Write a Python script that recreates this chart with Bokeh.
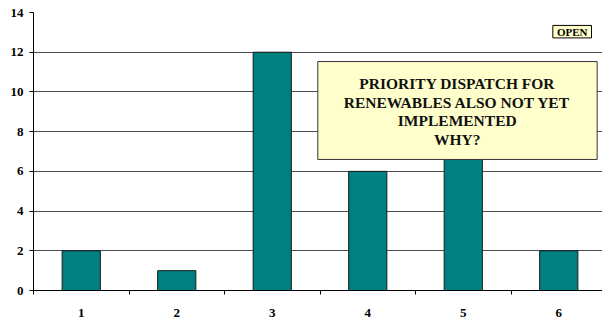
from bokeh.plotting import figure
from bokeh.models import Range1d, FixedTicker
from bokeh.core.properties import value
from bokeh.embed import file_html
from bokeh.resources import INLINE

# Chart data
categories = [1, 2, 3, 4, 5, 6]
counts = [2, 1, 12, 6, 7, 2]
y_ticks = [0, 2, 4, 6, 8, 10, 12, 14]

note_lines = ["PRIORITY DISPATCH FOR", "RENEWABLES ALSO NOT YET", "IMPLEMENTED", "WHY?"]
badge_text = "OPEN"

FONT = "Liberation Serif"

p = figure(width=602, height=323, output_backend="svg", toolbar_location=None,
           x_range=Range1d(0.5, 6.458), y_range=Range1d(0, 14),
           min_border_left=33, min_border_right=0, min_border_top=12, min_border_bottom=33)
p.outline_line_color = None
p.background_fill_color = "white"
p.border_fill_color = "white"

# Bars
p.vbar(x=categories, top=counts, width=0.4, bottom=0,
       fill_color="#008080", line_color="#1a1a1a", line_width=1)

# X axis: labels under the categories, small ticks between them
p.xaxis.ticker = FixedTicker(ticks=categories,
                             minor_ticks=[c - 0.5 for c in categories] + [6.5])
p.xaxis.major_tick_line_color = None
p.xaxis.major_tick_out = 0
p.xaxis.major_tick_in = 0
p.xaxis.minor_tick_out = 4
p.xaxis.minor_tick_in = 0
p.xaxis.minor_tick_line_color = "black"
p.xaxis.axis_line_color = "black"
p.xaxis.major_label_standoff = 14
p.xaxis.major_label_text_font = FONT
p.xaxis.major_label_text_font_style = "bold"
p.xaxis.major_label_text_font_size = "13px"
p.xaxis.major_label_text_color = "black"

# Y axis
p.yaxis.ticker = FixedTicker(ticks=y_ticks)
p.yaxis.minor_tick_line_color = None
p.yaxis.major_tick_out = 4
p.yaxis.major_tick_in = 0
p.yaxis.major_tick_line_color = "black"
p.yaxis.axis_line_color = "black"
p.yaxis.major_label_standoff = 6
p.yaxis.major_label_text_font = FONT
p.yaxis.major_label_text_font_style = "bold"
p.yaxis.major_label_text_font_size = "13px"
p.yaxis.major_label_text_color = "black"

p.xgrid.grid_line_color = None
p.ygrid.ticker = FixedTicker(ticks=y_ticks)
p.ygrid.grid_line_color = "#4d4d4d"
p.ygrid.grid_line_width = 1

# Note box
p.quad(left=[3.477], right=[6.402], bottom=[6.6], top=[11.53],
       fill_color="#FFFFCC", line_color="#333333", line_width=1)
p.text(x=[4.937] * 4, y=[10.44, 9.47, 8.56, 7.60], text=note_lines,
       text_align="center", text_baseline="middle",
       text_font=value(FONT), text_font_style="bold",
       text_font_size="15.5px", text_color="#111111")

# Status badge
p.quad(left=[5.938], right=[6.343], bottom=[12.72], top=[13.35],
       fill_color="#FFFFCC", line_color="black", line_width=1)
p.text(x=[6.141], y=[13.03], text=[badge_text],
       text_align="center", text_baseline="middle",
       text_font=value(FONT), text_font_style="bold",
       text_font_size="11px", text_color="black")

open("out.html", "w").write(file_html(p, INLINE))
